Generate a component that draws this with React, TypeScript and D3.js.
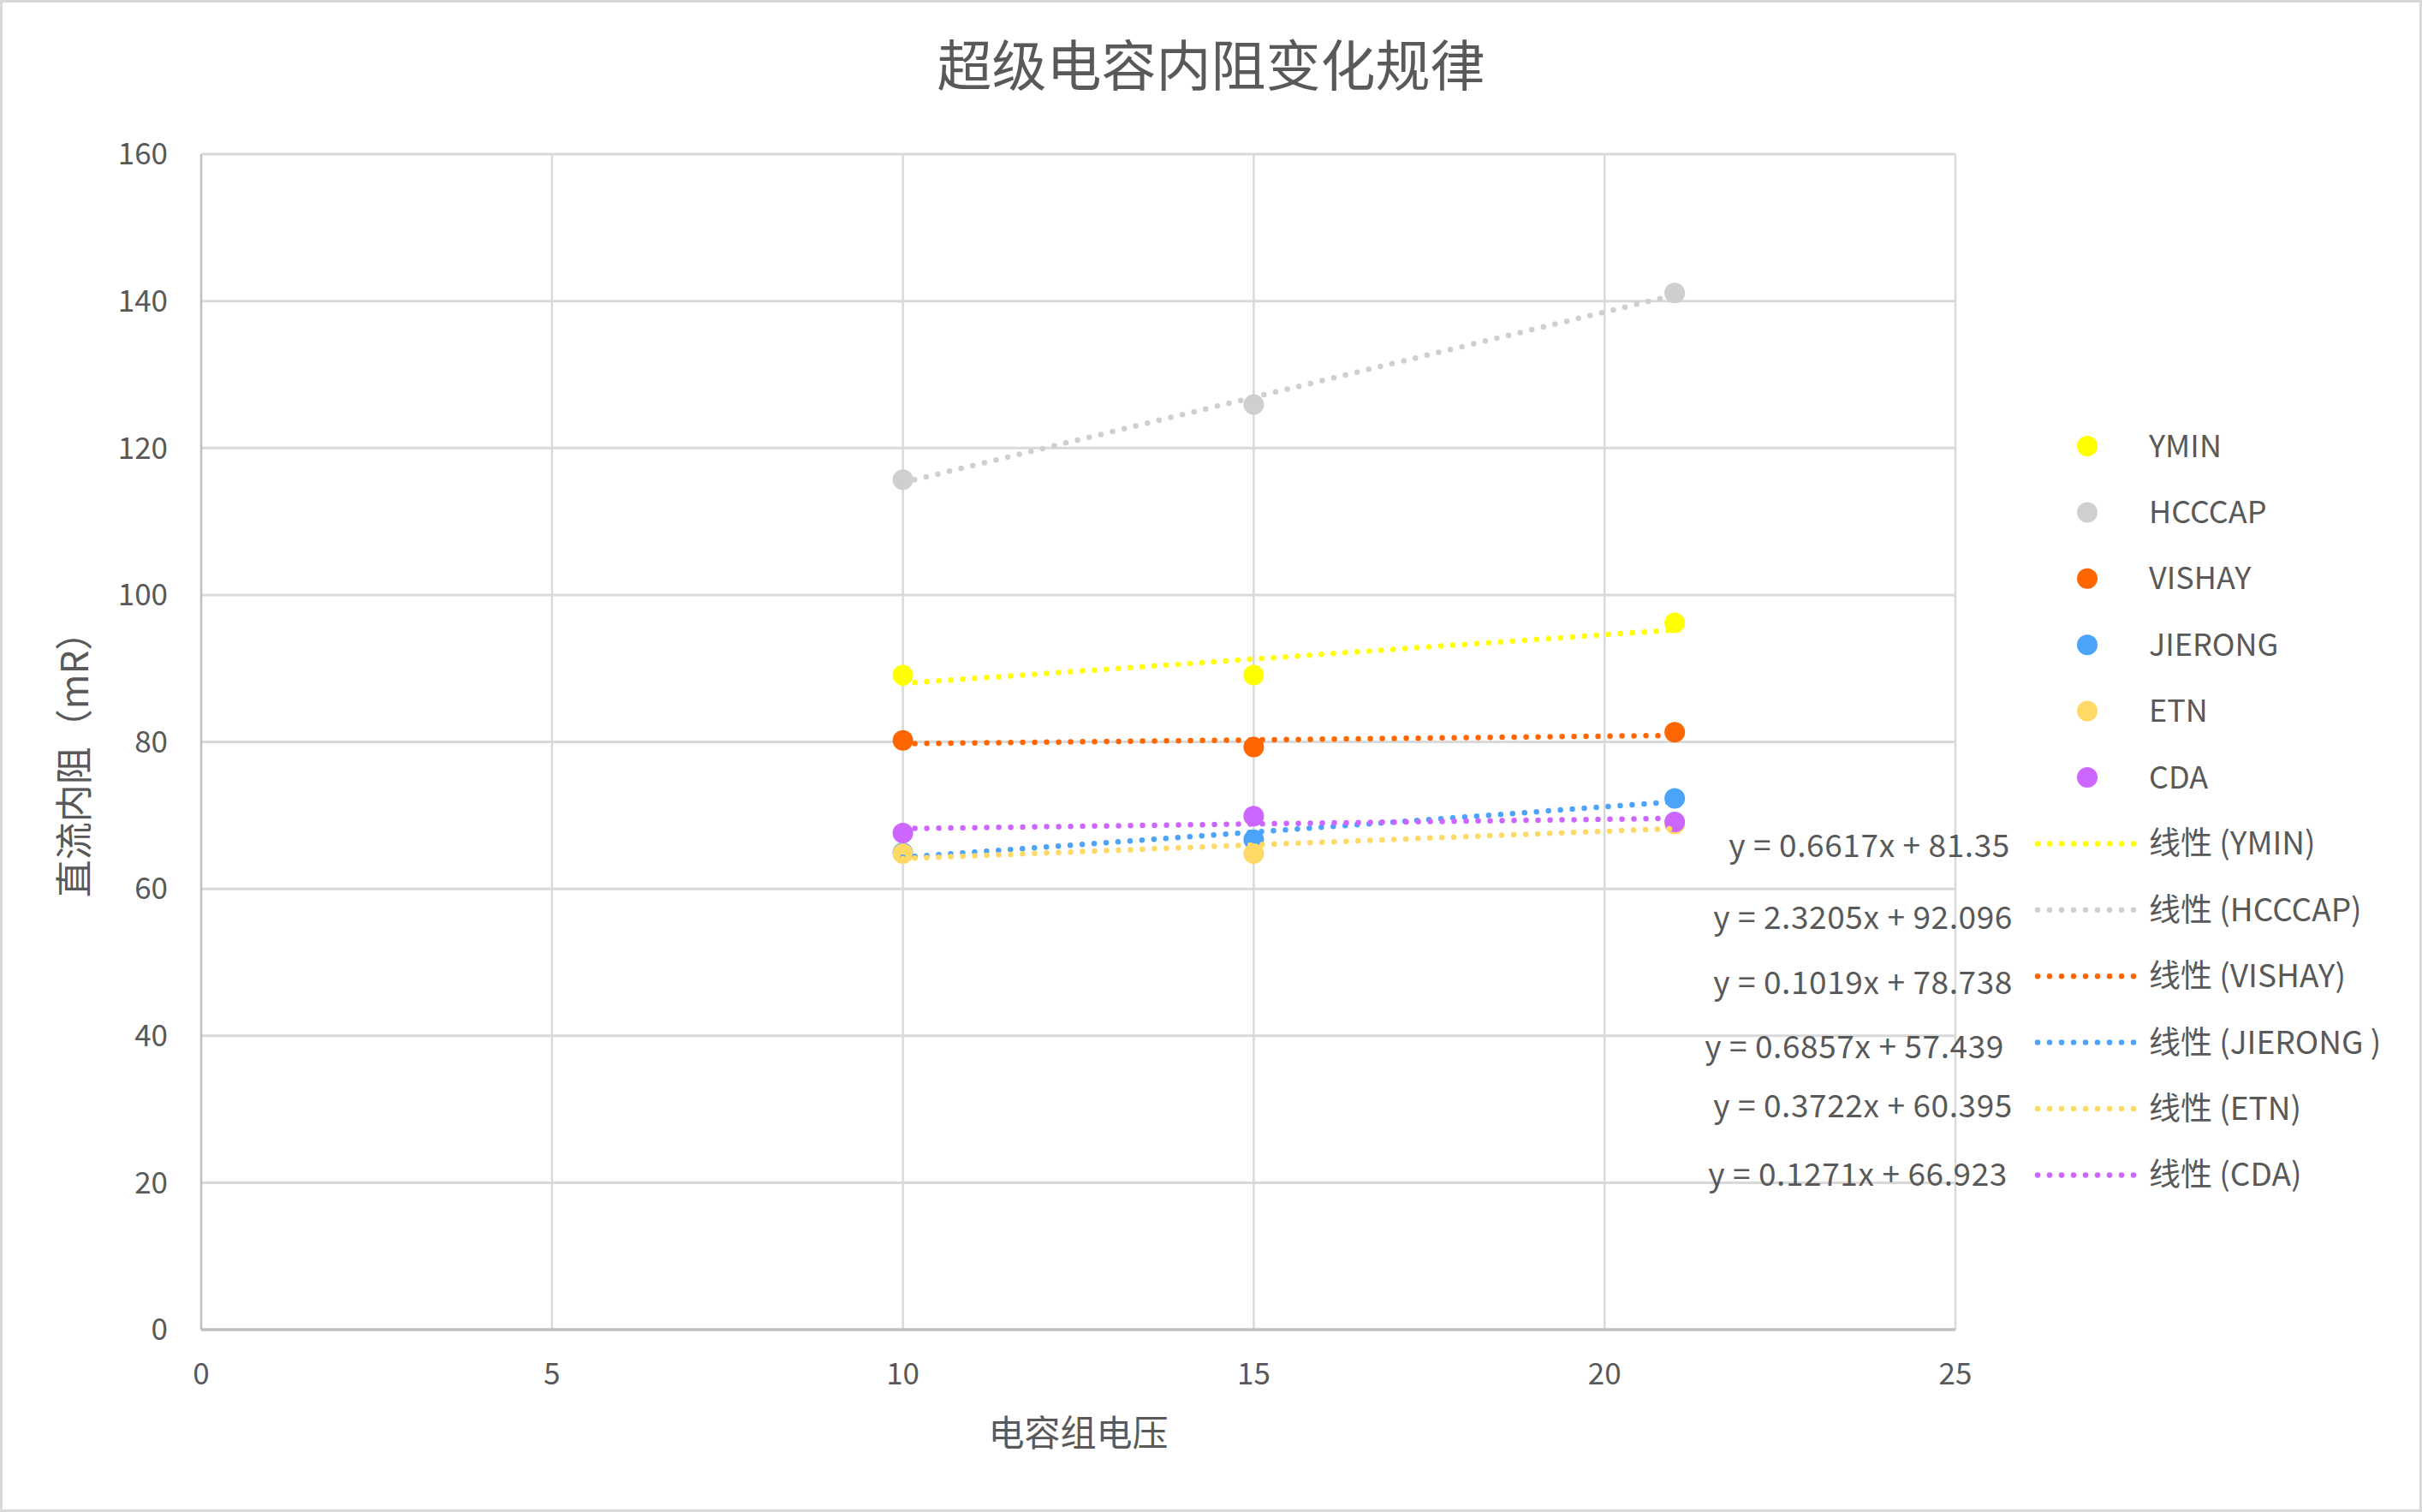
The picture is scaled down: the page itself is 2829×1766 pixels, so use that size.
import React, { useEffect, useRef } from "react";
import * as d3 from "d3";

const chartTitle = "超级电容内阻变化规律";
const xAxisTitle = "电容组电压";
const yAxisTitle = "直流内阻（mR）";

const xValues = [10, 15, 21];
const seriesNames = ["YMIN", "HCCCAP", "VISHAY", "JIERONG", "ETN", "CDA"];
const ymin = [89.1, 89.1, 96.2];
const hcccap = [115.7, 125.9, 141.1];
const vishay = [80.2, 79.3, 81.3];
const jierong = [64.9, 66.7, 72.3];
const etn = [64.8, 64.8, 68.8];
const cda = [67.6, 69.9, 69.1];
const seriesValues = [ymin, hcccap, vishay, jierong, etn, cda];
const seriesColors = ["#FFFF00", "#D0CECE", "#FF6600", "#4BA3FA", "#FFD966", "#CC66FF"];

const trendSlopes = [0.6617, 2.3205, 0.1019, 0.6857, 0.3722, 0.1271];
const trendIntercepts = [81.35, 92.096, 78.738, 57.439, 60.395, 66.923];
const trendLabels = ["线性 (YMIN)", "线性 (HCCCAP)", "线性 (VISHAY)", "线性 (JIERONG )", "线性 (ETN)", "线性 (CDA)"];

const xTicks = [0, 5, 10, 15, 20, 25];
const yTicks = [0, 20, 40, 60, 80, 100, 120, 140, 160];

const W = 2829;
const H = 1766;
const margin = { top: 180, right: 545, bottom: 213, left: 235 };
const textColor = "#595959";
const fontFamily = "'Noto Sans CJK SC', 'Noto Sans', sans-serif";

const App: React.FC = () => {
  const svgRef = useRef<SVGSVGElement>(null);

  useEffect(() => {
    const svg = d3.select(svgRef.current);
    svg.selectAll("*").remove();

    const width = W - margin.left - margin.right;
    const height = H - margin.top - margin.bottom;

    svg
      .append("rect")
      .attr("x", 1.5)
      .attr("y", 1.5)
      .attr("width", W - 3)
      .attr("height", H - 3)
      .attr("fill", "#fff")
      .attr("stroke", "#d9d9d9")
      .attr("stroke-width", 3);

    const x = d3.scaleLinear().domain([0, 25]).range([0, width]);
    const y = d3.scaleLinear().domain([0, 160]).range([height, 0]);

    const chart = svg
      .append("g")
      .attr("transform", `translate(${margin.left},${margin.top})`);

    // grid lines
    chart
      .append("g")
      .selectAll("line")
      .data(xTicks.filter((t) => t > 0))
      .enter()
      .append("line")
      .attr("x1", (d) => x(d))
      .attr("x2", (d) => x(d))
      .attr("y1", 0)
      .attr("y2", height)
      .attr("stroke", "#d9d9d9")
      .attr("stroke-width", 2.5);

    chart
      .append("g")
      .selectAll("line")
      .data(yTicks.filter((t) => t > 0))
      .enter()
      .append("line")
      .attr("x1", 0)
      .attr("x2", width)
      .attr("y1", (d) => y(d))
      .attr("y2", (d) => y(d))
      .attr("stroke", "#d9d9d9")
      .attr("stroke-width", 3);

    // axis lines
    chart
      .append("line")
      .attr("x1", 0)
      .attr("x2", 0)
      .attr("y1", 0)
      .attr("y2", height)
      .attr("stroke", "#bfbfbf")
      .attr("stroke-width", 2.5);
    chart
      .append("line")
      .attr("x1", 0)
      .attr("x2", width)
      .attr("y1", height)
      .attr("y2", height)
      .attr("stroke", "#bfbfbf")
      .attr("stroke-width", 3.5);

    // tick labels
    chart
      .append("g")
      .selectAll("text")
      .data(yTicks)
      .enter()
      .append("text")
      .attr("x", -39)
      .attr("y", (d) => y(d))
      .attr("dy", "0.35em")
      .attr("text-anchor", "end")
      .attr("font-size", 35)
      .attr("fill", textColor)
      .text((d) => d3.format("d")(d));

    chart
      .append("g")
      .selectAll("text")
      .data(xTicks)
      .enter()
      .append("text")
      .attr("x", (d) => x(d))
      .attr("y", height + 52)
      .attr("dy", "0.35em")
      .attr("text-anchor", "middle")
      .attr("font-size", 35)
      .attr("fill", textColor)
      .text((d) => d3.format("d")(d));

    // markers
    seriesValues.forEach((vals, i) => {
      chart
        .append("g")
        .selectAll("circle")
        .data(vals)
        .enter()
        .append("circle")
        .attr("cx", (_, j) => x(xValues[j]))
        .attr("cy", (d) => y(d))
        .attr("r", 12)
        .attr("fill", seriesColors[i]);
    });

    // trend lines (drawn above markers)
    const x0 = d3.min(xValues) as number;
    const x1 = d3.max(xValues) as number;
    trendSlopes.forEach((m, i) => {
      chart
        .append("line")
        .attr("x1", x(x0))
        .attr("y1", y(m * x0 + trendIntercepts[i]))
        .attr("x2", x(x1))
        .attr("y2", y(m * x1 + trendIntercepts[i]))
        .attr("stroke", seriesColors[i])
        .attr("stroke-width", 6.5)
        .attr("stroke-linecap", "round")
        .attr("stroke-dasharray", "0 14");
    });

    // title
    svg
      .append("text")
      .attr("x", W / 2)
      .attr("y", 78)
      .attr("dy", "0.35em")
      .attr("text-anchor", "middle")
      .attr("font-size", 64)
      .attr("fill", textColor)
      .text(chartTitle);

    // axis titles
    svg
      .append("text")
      .attr("x", margin.left + x(12.5))
      .attr("y", 1674)
      .attr("dy", "0.35em")
      .attr("text-anchor", "middle")
      .attr("font-size", 42)
      .attr("fill", textColor)
      .text(xAxisTitle);

    svg
      .append("text")
      .attr("transform", `translate(88, 882) rotate(-90)`)
      .attr("dy", "0.35em")
      .attr("text-anchor", "middle")
      .attr("font-size", 44)
      .attr("fill", textColor)
      .text(yAxisTitle);

    // legend
    const rowY = (i: number) => 521 + i * 77.4;
    const legend = svg.append("g");
    seriesNames.forEach((name, i) => {
      legend
        .append("circle")
        .attr("cx", 2438)
        .attr("cy", rowY(i))
        .attr("r", 12)
        .attr("fill", seriesColors[i]);
      legend
        .append("text")
        .attr("x", 2510)
        .attr("y", rowY(i))
        .attr("dy", "0.35em")
        .attr("font-size", 36)
        .attr("fill", textColor)
        .text(name);
    });

    // equation labels sit beside the legend, slightly off the rows
    const eqRight = [2348, 2351, 2351, 2341, 2351, 2345];
    const eqShift = [3, 9, 8, 5, -3, 0];
    trendLabels.forEach((label, i) => {
      const ry = rowY(i + seriesNames.length);
      legend
        .append("line")
        .attr("x1", 2380)
        .attr("x2", 2494)
        .attr("y1", ry)
        .attr("y2", ry)
        .attr("stroke", seriesColors[i])
        .attr("stroke-width", 6.5)
        .attr("stroke-linecap", "round")
        .attr("stroke-dasharray", "0 14");
      legend
        .append("text")
        .attr("x", 2510)
        .attr("y", ry)
        .attr("dy", "0.35em")
        .attr("font-size", 37)
        .attr("fill", textColor)
        .text(label);
      legend
        .append("text")
        .attr("x", eqRight[i])
        .attr("y", ry + eqShift[i])
        .attr("dy", "0.35em")
        .attr("text-anchor", "end")
        .attr("font-size", 37)
        .attr("letter-spacing", 0.6)
        .attr("fill", textColor)
        .text(`y = ${trendSlopes[i]}x + ${trendIntercepts[i]}`);
    });
  }, []);

  return (
    <svg
      ref={svgRef}
      width={W}
      height={H}
      style={{ position: "absolute", left: 0, top: 0, fontFamily }}
    ></svg>
  );
};

export default App;
